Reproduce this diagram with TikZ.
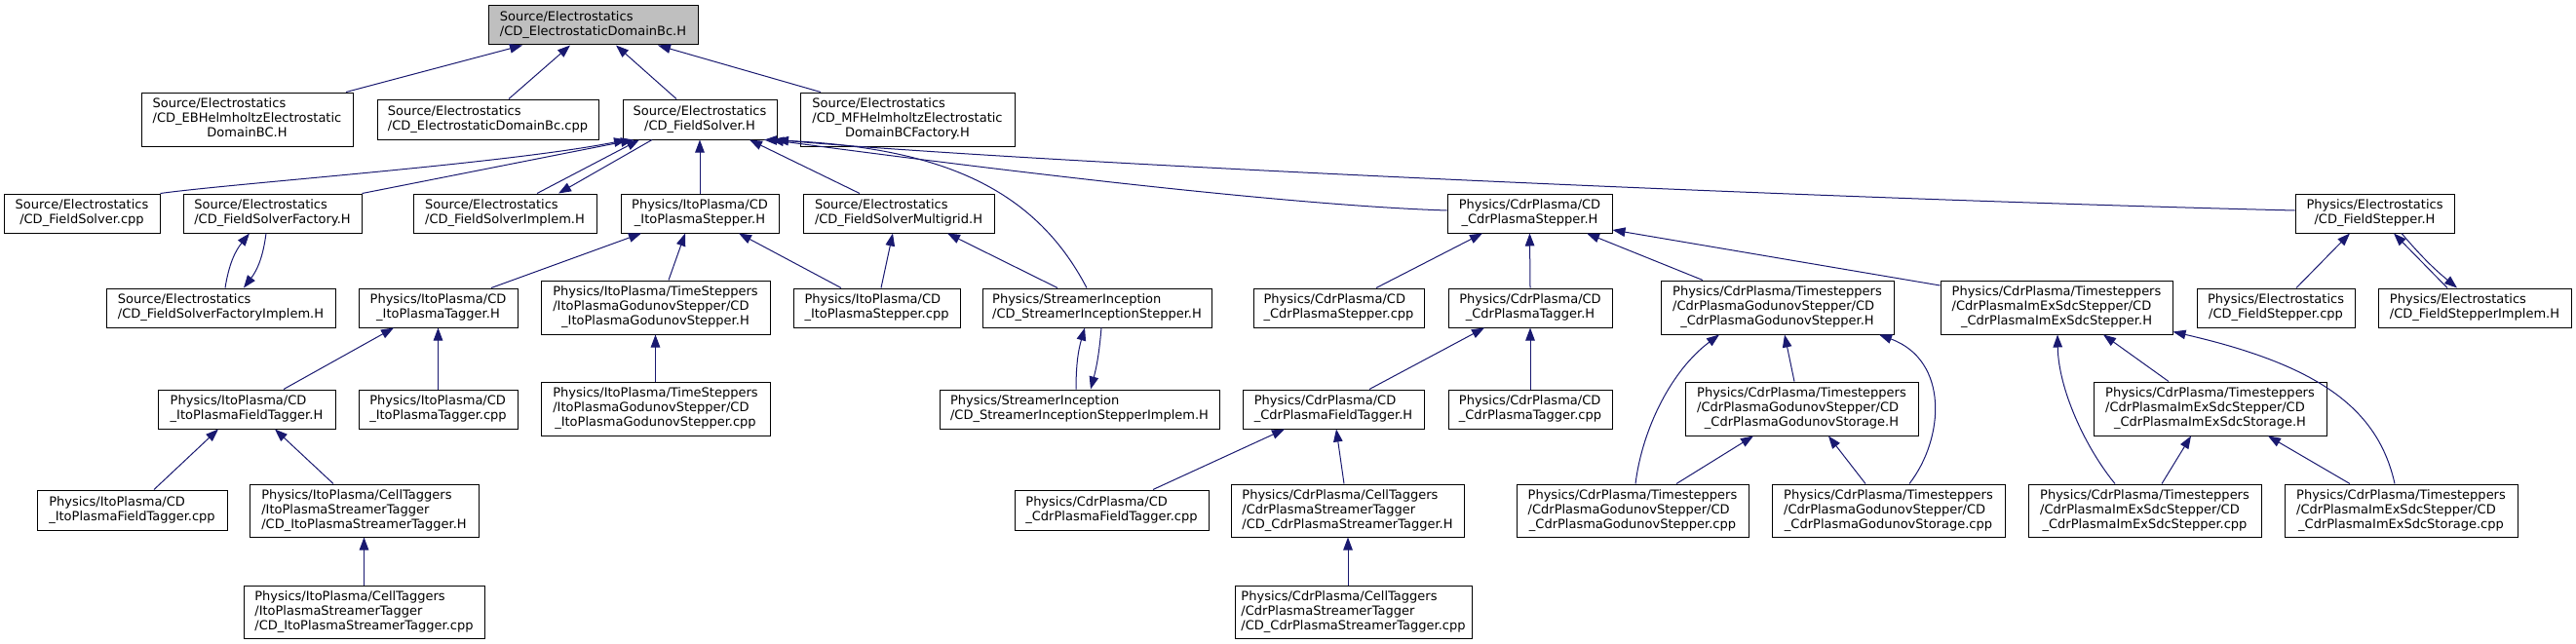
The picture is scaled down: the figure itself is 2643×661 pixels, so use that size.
\documentclass[tikz,border=0pt]{standalone}
\usepackage{fontspec}
\setmainfont{DejaVu Sans}
\usetikzlibrary{arrows.meta}
\definecolor{mblue}{HTML}{191970}
\newcommand{\lbl}[2]{\begin{tabular}{@{}l@{}}#1\\\multicolumn{1}{@{}c@{}}{#2}\end{tabular}}
\begin{document}
\begin{tikzpicture}[x=1pt,y=-1pt,
  nd/.style={draw=black, line width=1pt, fill=white, inner sep=0pt, font=\fontsize{13}{15}\selectfont},
  dep/.style={draw=mblue, line width=1pt, -{Triangle[length=13pt,width=9.5pt]}}]
\useasboundingbox (0,0) rectangle (2643,661);
% row 1
\node[nd,fill=black!25,minimum width=215pt,minimum height=40pt] (root) at (608.5,26) {\lbl{Source/Electrostatics}{/CD\_ElectrostaticDomainBc.H}};
% row 2
\node[nd,minimum width=217pt,minimum height=55pt] (ebh) at (253.5,122.5) {\lbl{Source/Electrostatics\\/CD\_EBHelmholtzElectrostatic}{DomainBC.H}};
\node[nd,minimum width=227pt,minimum height=41pt] (dbc) at (500.5,122.5) {\lbl{Source/Electrostatics}{/CD\_ElectrostaticDomainBc.cpp}};
\node[nd,minimum width=158pt,minimum height=41pt] (fsh) at (718,122.5) {\lbl{Source/Electrostatics}{/CD\_FieldSolver.H}};
\node[nd,minimum width=220pt,minimum height=55pt] (mfh) at (931,122.5) {\lbl{Source/Electrostatics\\/CD\_MFHelmholtzElectrostatic}{DomainBCFactory.H}};
% row 3
\node[nd,minimum width=160pt,minimum height=40pt] (fscpp) at (84,219) {\lbl{Source/Electrostatics}{/CD\_FieldSolver.cpp}};
\node[nd,minimum width=183pt,minimum height=40pt] (fsf) at (279.5,219) {\lbl{Source/Electrostatics}{/CD\_FieldSolverFactory.H}};
\node[nd,minimum width=188pt,minimum height=40pt] (fsi) at (518,219) {\lbl{Source/Electrostatics}{/CD\_FieldSolverImplem.H}};
\node[nd,minimum width=162pt,minimum height=40pt] (ips) at (718,219) {\lbl{Physics/ItoPlasma/CD}{\_ItoPlasmaStepper.H}};
\node[nd,minimum width=196pt,minimum height=40pt] (fsm) at (922,219) {\lbl{Source/Electrostatics}{/CD\_FieldSolverMultigrid.H}};
\node[nd,minimum width=169pt,minimum height=40pt] (cps) at (1569.5,219) {\lbl{Physics/CdrPlasma/CD}{\_CdrPlasmaStepper.H}};
\node[nd,minimum width=163pt,minimum height=40pt] (fst) at (2436.5,219) {\lbl{Physics/Electrostatics}{/CD\_FieldStepper.H}};
% row 4
\node[nd,minimum width=235pt,minimum height=40pt] (fsfi) at (226.5,316) {\lbl{Source/Electrostatics}{/CD\_FieldSolverFactoryImplem.H}};
\node[nd,minimum width=163pt,minimum height=40pt] (ipt) at (449.5,316) {\lbl{Physics/ItoPlasma/CD}{\_ItoPlasmaTagger.H}};
\node[nd,minimum width=235pt,minimum height=55pt] (ipgs) at (672.5,315.5) {\lbl{Physics/ItoPlasma/TimeSteppers\\/ItoPlasmaGodunovStepper/CD}{\_ItoPlasmaGodunovStepper.H}};
\node[nd,minimum width=171pt,minimum height=40pt] (ipscpp) at (899.5,316) {\lbl{Physics/ItoPlasma/CD}{\_ItoPlasmaStepper.cpp}};
\node[nd,minimum width=235pt,minimum height=40pt] (sis) at (1125.5,316) {\lbl{Physics/StreamerInception}{/CD\_StreamerInceptionStepper.H}};
\node[nd,minimum width=175pt,minimum height=40pt] (cpscpp) at (1373.5,316) {\lbl{Physics/CdrPlasma/CD}{\_CdrPlasmaStepper.cpp}};
\node[nd,minimum width=168pt,minimum height=40pt] (cpt) at (1570,316) {\lbl{Physics/CdrPlasma/CD}{\_CdrPlasmaTagger.H}};
\node[nd,minimum width=239pt,minimum height=55pt] (cpgs) at (1823.5,315.5) {\lbl{Physics/CdrPlasma/Timesteppers\\/CdrPlasmaGodunovStepper/CD}{\_CdrPlasmaGodunovStepper.H}};
\node[nd,minimum width=238pt,minimum height=55pt] (cpis) at (2110,315.5) {\lbl{Physics/CdrPlasma/Timesteppers\\/CdrPlasmaImExSdcStepper/CD}{\_CdrPlasmaImExSdcStepper.H}};
\node[nd,minimum width=162pt,minimum height=40pt] (fstcpp) at (2335,316) {\lbl{Physics/Electrostatics}{/CD\_FieldStepper.cpp}};
\node[nd,minimum width=198pt,minimum height=40pt] (fsti) at (2539,316) {\lbl{Physics/Electrostatics}{/CD\_FieldStepperImplem.H}};
% row 5
\node[nd,minimum width=182pt,minimum height=40pt] (ipft) at (253,420) {\lbl{Physics/ItoPlasma/CD}{\_ItoPlasmaFieldTagger.H}};
\node[nd,minimum width=163pt,minimum height=40pt] (iptcpp) at (449.5,420) {\lbl{Physics/ItoPlasma/CD}{\_ItoPlasmaTagger.cpp}};
\node[nd,minimum width=235pt,minimum height=55pt] (ipgscpp) at (672.5,419.5) {\lbl{Physics/ItoPlasma/TimeSteppers\\/ItoPlasmaGodunovStepper/CD}{\_ItoPlasmaGodunovStepper.cpp}};
\node[nd,minimum width=287pt,minimum height=40pt] (sisi) at (1107.5,420) {\lbl{Physics/StreamerInception}{/CD\_StreamerInceptionStepperImplem.H}};
\node[nd,minimum width=186pt,minimum height=40pt] (cpft) at (1368,420) {\lbl{Physics/CdrPlasma/CD}{\_CdrPlasmaFieldTagger.H}};
\node[nd,minimum width=168pt,minimum height=40pt] (cptcpp) at (1570,420) {\lbl{Physics/CdrPlasma/CD}{\_CdrPlasmaTagger.cpp}};
\node[nd,minimum width=239pt,minimum height=55pt] (cpgst) at (1848.5,419.5) {\lbl{Physics/CdrPlasma/Timesteppers\\/CdrPlasmaGodunovStepper/CD}{\_CdrPlasmaGodunovStorage.H}};
\node[nd,minimum width=239pt,minimum height=55pt] (cpist) at (2267.5,419.5) {\lbl{Physics/CdrPlasma/Timesteppers\\/CdrPlasmaImExSdcStepper/CD}{\_CdrPlasmaImExSdcStorage.H}};
% row 6
\node[nd,minimum width=195pt,minimum height=41pt] (ipftcpp) at (135.5,523.5) {\lbl{Physics/ItoPlasma/CD}{\_ItoPlasmaFieldTagger.cpp}};
\node[nd,minimum width=235pt,minimum height=54pt] (ipst) at (373.5,524) {\lbl{Physics/ItoPlasma/CellTaggers\\/ItoPlasmaStreamerTagger}{/CD\_ItoPlasmaStreamerTagger.H}};
\node[nd,minimum width=199pt,minimum height=41pt] (cpftcpp) at (1140.5,523.5) {\lbl{Physics/CdrPlasma/CD}{\_CdrPlasmaFieldTagger.cpp}};
\node[nd,minimum width=239pt,minimum height=54pt] (cpst) at (1382.5,524) {\lbl{Physics/CdrPlasma/CellTaggers\\/CdrPlasmaStreamerTagger}{/CD\_CdrPlasmaStreamerTagger.H}};
\node[nd,minimum width=238pt,minimum height=54pt] (cpgscpp) at (1675,524) {\lbl{Physics/CdrPlasma/Timesteppers\\/CdrPlasmaGodunovStepper/CD}{\_CdrPlasmaGodunovStepper.cpp}};
\node[nd,minimum width=239pt,minimum height=54pt] (cpgstcpp) at (1937.5,524) {\lbl{Physics/CdrPlasma/Timesteppers\\/CdrPlasmaGodunovStepper/CD}{\_CdrPlasmaGodunovStorage.cpp}};
\node[nd,minimum width=239pt,minimum height=54pt] (ciscpp) at (2200.5,524) {\lbl{Physics/CdrPlasma/Timesteppers\\/CdrPlasmaImExSdcStepper/CD}{\_CdrPlasmaImExSdcStepper.cpp}};
\node[nd,minimum width=239pt,minimum height=54pt] (cistcpp) at (2463.5,524) {\lbl{Physics/CdrPlasma/Timesteppers\\/CdrPlasmaImExSdcStepper/CD}{\_CdrPlasmaImExSdcStorage.cpp}};
% row 7
\node[nd,minimum width=247pt,minimum height=54pt] (ipstcpp) at (373.5,628) {\lbl{Physics/ItoPlasma/CellTaggers\\/ItoPlasmaStreamerTagger}{/CD\_ItoPlasmaStreamerTagger.cpp}};
\node[nd,minimum width=243pt,minimum height=54pt] (cpstcpp) at (1388.5,628) {\lbl{Physics/CdrPlasma/CellTaggers\\/CdrPlasmaStreamerTagger}{/CD\_CdrPlasmaStreamerTagger.cpp}};

% edges
\draw[dep] ([xshift=101.5pt]ebh.north) -- ([xshift=-72.5pt]root.south);
\draw[dep] ([xshift=21.5pt]dbc.north) -- ([xshift=-23.5pt]root.south);
\draw[dep] ([xshift=-24pt]fsh.north) -- ([xshift=23.5pt]root.south);
\draw[dep] ([xshift=-89pt]mfh.north) -- ([xshift=66.5pt]root.south);

\draw[dep] (fscpp.north east) .. controls (240,188) and (520,168) .. ([xshift=-75pt]fsh.south);
\draw[dep] (fsf.north east) -- ([xshift=-68pt]fsh.south);
\draw[dep] ([xshift=33pt]fsi.north) -- ([xshift=-62pt]fsh.south);
\draw[dep] ([xshift=-49pt]fsh.south) -- ([xshift=55pt]fsi.north);
\draw[dep] (ips.north) -- (fsh.south);
\draw[dep] ([xshift=-40pt]fsm.north) -- ([xshift=51pt]fsh.south);
\draw[dep] ([xshift=-10.5pt]sis.north) .. controls (1060,190) and (960,150) .. ([xshift=66pt]fsh.south);
\draw[dep] ([yshift=3pt]cps.west) .. controls (1300,210) and (950,165) .. ([xshift=73pt]fsh.south);
\draw[dep] ([yshift=3pt]fst.west) .. controls (1900,205) and (1100,170) .. ([xshift=78pt]fsh.south);

\draw[dep] ([xshift=4.5pt]fsfi.north) to[bend left=15] ([xshift=-23.5pt]fsf.south);
\draw[dep] ([xshift=-6.5pt]fsf.south) to[bend left=15] ([xshift=23.5pt]fsfi.north);

\draw[dep] ([xshift=54.5pt]ipt.north) -- ([xshift=-60pt]ips.south);
\draw[dep] ([xshift=13.5pt]ipgs.north) -- ([xshift=-15pt]ips.south);
\draw[dep] ([xshift=-36.5pt]ipscpp.north) -- ([xshift=40pt]ips.south);
\draw[dep] ([xshift=4.5pt]ipscpp.north) -- ([xshift=-6pt]fsm.south);
\draw[dep] ([xshift=-40.5pt]sis.north) -- ([xshift=50pt]fsm.south);
\draw[dep] ([xshift=-3.5pt]sisi.north) to[bend left=8] ([xshift=-12.5pt]sis.south);
\draw[dep] ([xshift=4.5pt]sis.south) to[bend left=5] ([xshift=11.5pt]sisi.north);

\draw[dep] ([xshift=38.5pt]cpscpp.north) -- ([xshift=-48.5pt]cps.south);
\draw[dep] (cpt.north) -- (cps.south);
\draw[dep] ([xshift=-76.5pt]cpgs.north) -- ([xshift=58.5pt]cps.south);
\draw[dep] ([yshift=22.5pt]cpis.west) -- ([yshift=-17pt]cps.east);

\draw[dep] ([xshift=21pt]fstcpp.north) -- ([xshift=-25.5pt]fst.south);
\draw[dep] ([xshift=-28pt]fsti.north) -- ([xshift=19.5pt]fst.south);
\draw[dep] ([xshift=27.5pt]fst.south) to[bend right=5] ([xshift=-18pt]fsti.north);

\draw[dep] ([xshift=38pt]ipft.north) -- ([xshift=-45.5pt]ipt.south);
\draw[dep] (iptcpp.north) -- (ipt.south);
\draw[dep] (ipgscpp.north) -- (ipgs.south);
\draw[dep] ([xshift=37pt]cpft.north) -- ([xshift=-47pt]cpt.south);
\draw[dep] (cptcpp.north) -- (cpt.south);
\draw[dep] ([xshift=-7.5pt]cpgst.north) -- ([xshift=7.5pt]cpgs.south);
\draw[dep] ([xshift=3pt]cpgscpp.north) .. controls (1685,440) and (1715,380) .. ([xshift=-59.5pt]cpgs.south);
\draw[dep] ([xshift=21.5pt]cpgstcpp.north) .. controls (1995,450) and (2000,370) .. ([xshift=104.5pt]cpgs.south);
\draw[dep] ([xshift=45pt]cpgscpp.north) -- ([xshift=-49.5pt]cpgst.south);
\draw[dep] ([xshift=-23.5pt]cpgstcpp.north) -- ([xshift=27.5pt]cpgst.south);
\draw[dep] ([xshift=-42.5pt]cpist.north) -- ([xshift=48pt]cpis.south);
\draw[dep] ([xshift=-30.5pt]ciscpp.north) .. controls (2140,460) and (2112,400) .. ([xshift=1pt]cpis.south);
\draw[dep] ([xshift=-6.5pt]cistcpp.north) .. controls (2440,420) and (2380,375) .. ([yshift=3pt]cpis.south east);
\draw[dep] ([xshift=17.5pt]ciscpp.north) -- ([xshift=-19.5pt]cpist.south);
\draw[dep] ([xshift=-52.5pt]cistcpp.north) -- ([xshift=59.5pt]cpist.south);

\draw[dep] ([xshift=22.5pt]ipftcpp.north) -- ([xshift=-29pt]ipft.south);
\draw[dep] ([xshift=-31.5pt]ipst.north) -- ([xshift=29pt]ipft.south);
\draw[dep] (ipstcpp.north) -- (ipst.south);
\draw[dep] ([xshift=42.5pt]cpftcpp.north) -- ([xshift=-50pt]cpft.south);
\draw[dep] ([xshift=-3.5pt]cpst.north) -- ([xshift=3pt]cpft.south);
\draw[dep] ([xshift=-5.5pt]cpstcpp.north) -- ([xshift=0.5pt]cpst.south);
\end{tikzpicture}
\end{document}
